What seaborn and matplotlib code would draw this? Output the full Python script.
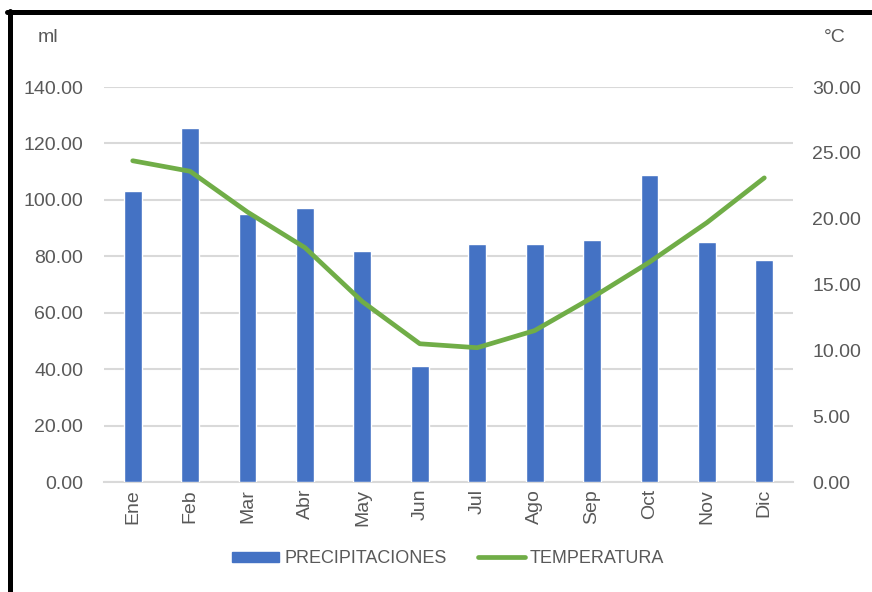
import matplotlib
matplotlib.use("Agg")
import matplotlib.pyplot as plt
import seaborn as sns
import pandas as pd
from matplotlib.patches import Rectangle
from matplotlib.lines import Line2D
from matplotlib.ticker import FormatStrFormatter

meses = ["Ene", "Feb", "Mar", "Abr", "May", "Jun", "Jul", "Ago", "Sep", "Oct", "Nov", "Dic"]
precipitaciones = [103.0, 125.3, 95.0, 97.2, 81.9, 41.1, 84.3, 84.3, 85.8, 108.8, 84.9, 78.7]
temperatura = [24.4, 23.6, 20.5, 17.8, 13.7, 10.5, 10.2, 11.5, 14.0, 16.7, 19.7, 23.1]
ticks_ml = [0, 20, 40, 60, 80, 100, 120, 140]
ticks_c = [0, 5, 10, 15, 20, 25, 30]

AZUL = "#4472C4"
VERDE = "#70AD47"
GRIS = "#595959"
FS = 14

sns.set_theme(style="white")
plt.rcParams["font.family"] = ["Liberation Sans", "DejaVu Sans"]

df = pd.DataFrame({"mes": meses, "prec": precipitaciones, "temp": temperatura})

fig = plt.figure(figsize=(8.72, 5.92), dpi=100)
ax = fig.add_axes([0.1193, 0.1858, 0.7901, 0.6672])

sns.barplot(data=df, x="mes", y="prec", color=AZUL, width=0.31, saturation=1,
            ax=ax, zorder=3)
ax.set_xlim(-0.5, 11.5)
ax.set_ylim(0, 140)
ax.set_yticks(ticks_ml)
ax.yaxis.set_major_formatter(FormatStrFormatter("%.2f"))
ax.grid(axis="y", color="#d9d9d9", linewidth=1.5, zorder=0)
ax.set_axisbelow(True)
ax.set_xlabel("")
ax.set_ylabel("")
for s in ["top", "right", "left"]:
    ax.spines[s].set_visible(False)
ax.spines["bottom"].set_color("#d9d9d9")
ax.spines["bottom"].set_linewidth(1.5)
ax.tick_params(axis="y", length=0, pad=15, labelsize=FS, labelcolor=GRIS)
ax.tick_params(axis="x", length=0, pad=5, labelsize=FS, labelcolor=GRIS, rotation=90)

ax2 = ax.twinx()
sns.lineplot(x=range(len(meses)), y=temperatura, color=VERDE, linewidth=3.4,
             ax=ax2, zorder=4)
ax2.set_ylim(0, 30)
ax2.set_yticks(ticks_c)
ax2.yaxis.set_major_formatter(FormatStrFormatter("%.2f"))
for s in ax2.spines.values():
    s.set_visible(False)
ax2.tick_params(axis="y", length=0, pad=14, labelsize=FS, labelcolor=GRIS)
ax2.grid(False)

fig.text(0.043, 0.936, "ml", fontsize=FS, color=GRIS, va="center", ha="left")
fig.text(0.945, 0.936, "°C", fontsize=FS, color=GRIS, va="center", ha="left")

handles = [Rectangle((0, 0), 1, 1, color=AZUL),
           Line2D([0], [0], color=VERDE, linewidth=3.4)]
fig.legend(handles, ["PRECIPITACIONES", "TEMPERATURA"], loc="center",
           bbox_to_anchor=(0.514, 0.056), ncol=2, frameon=False,
           fontsize=13, labelcolor=GRIS, handlelength=2.6, handleheight=0.55,
           handletextpad=0.28, columnspacing=1.75)

# black frame along top and left edges
fig.add_artist(Line2D([0.008, 1.0], [0.979, 0.979], color="black",
                      linewidth=3.6, transform=fig.transFigure))
fig.add_artist(Line2D([0.0109, 0.0109], [0.0, 0.981], color="black",
                      linewidth=3.6, transform=fig.transFigure))

fig.savefig("out.png", dpi=100)
